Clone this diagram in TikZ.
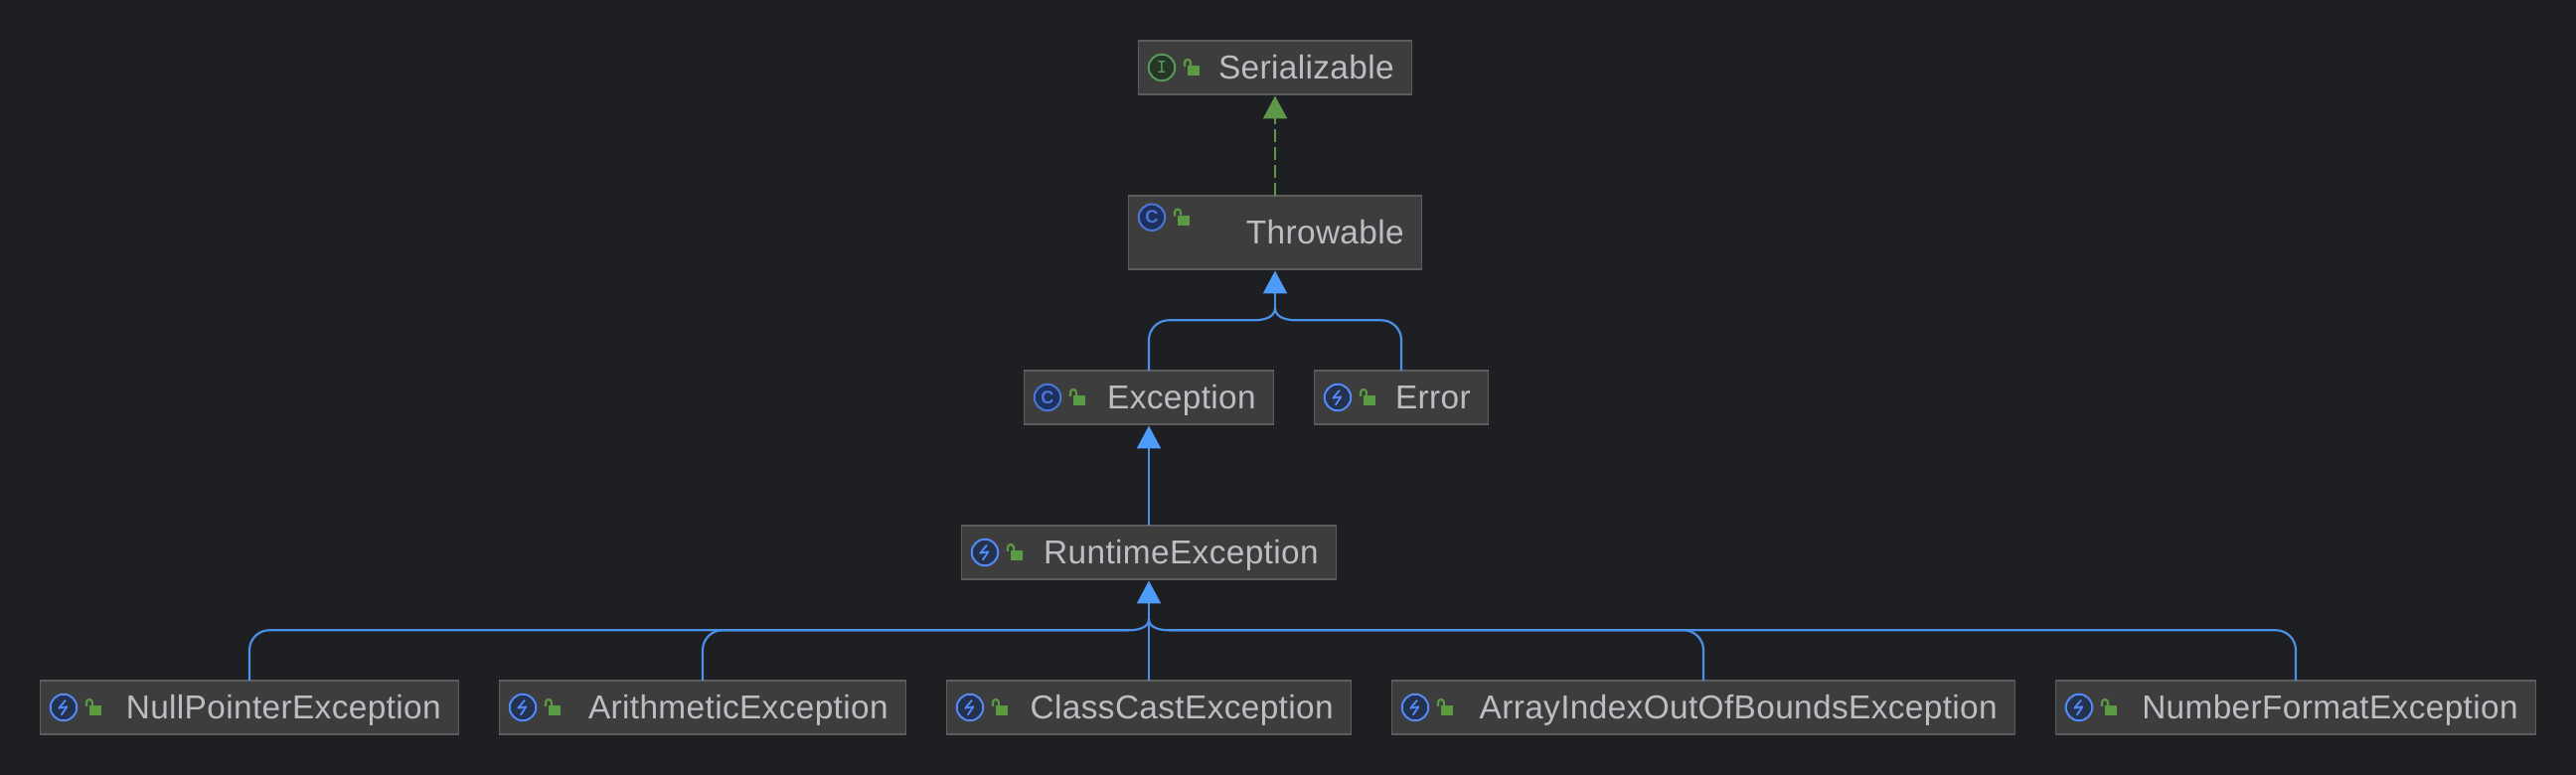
\documentclass[tikz,border=0pt]{standalone}
\usepackage{fontspec}
\setmainfont[LetterSpace=1.1]{Liberation Sans}
\usetikzlibrary{arrows.meta,calc}
\definecolor{pagebg}{HTML}{1E1F22}
\definecolor{boxfill}{HTML}{3D3D3D}
\definecolor{boxline}{HTML}{5C5D5C}
\definecolor{boxtext}{HTML}{BCBEC4}
\definecolor{extblue}{HTML}{4A8FE8}
\definecolor{tipblue}{HTML}{4E9CF9}
\definecolor{impgreen}{HTML}{5F9749}
\definecolor{lockgreen}{HTML}{5A9A42}
\definecolor{intring}{HTML}{57965C}
\definecolor{intfill}{HTML}{253627}
\definecolor{classring}{HTML}{4A77D4}
\definecolor{classfill}{HTML}{1F3060}
\definecolor{errring}{HTML}{548AF7}
\definecolor{errfill}{HTML}{25324D}

\begin{document}
\begin{tikzpicture}[
    classnode/.style={draw=boxline, fill=boxfill, line width=0.015cm, rectangle, outer sep=0pt, inner xsep=0.18cm, inner ysep=0pt,
        text width=#1cm-0.36cm, align=right, minimum height=0.54cm, text height=0.235cm, text depth=0cm,
        font=\fontsize{9.5}{11}\selectfont, text=boxtext},
    extendsline/.style={draw=extblue, line width=0.022cm},
    extendstip/.style={-{Triangle[width=0.24cm, length=0.23cm, color=tipblue]}, shorten >=0.015cm},
    implementsline/.style={draw=impgreen, line width=0.022cm, dash pattern=on 0.13cm off 0.05cm,
        -{Triangle[width=0.24cm, length=0.23cm, color=impgreen]}, shorten >=0.015cm},
    badge/.style={circle, minimum size=0.265cm, inner sep=0pt, outer sep=0pt, line width=0.02cm},
    lockpic/.pic={
        \fill[lockgreen] (0.497,-0.08) rectangle (0.62,0.02);
        \draw[lockgreen, line width=0.022cm] (0.467,0.01) -- (0.467,0.05) arc (180:0:0.03) -- (0.527,0.02);
    },
    intpic/.pic={
        \node[badge, draw=intring, fill=intfill, text=intring, font=\fontsize{5.6}{6}\ttfamily\bfseries] (-ring) at (0.237,0) {I};
        \pic at (0,0) {lockpic};
    },
    classpic/.pic={
        \node[badge, draw=classring, fill=classfill, text=classring, font=\fontsize{5.2}{6}\selectfont\bfseries] (-ring) at (0.237,0) {C};
        \pic at (0,0) {lockpic};
    },
    errpic/.pic={
        \node[badge, draw=errring, fill=errfill] (-ring) at (0.237,0) {};
        \draw[errring, line width=0.018cm, line join=round] (0.257,0.073) -- (0.19,-0.007) -- (0.27,0.007) -- (0.214,-0.077);
        \pic at (0,0) {lockpic};
    }]
    \fill[pagebg] (0,0) rectangle (25.92,7.80);
    % Boxes
    \node[classnode=2.754] (serializable) at (12.83, 7.12) {Serializable};
    \node[classnode=2.954, minimum height=0.74cm] (throwable) at (12.83, 5.46) {Throwable};
    \node[classnode=2.514] (exception) at (11.56, 3.80) {Exception};
    \node[classnode=1.754] (error) at (14.10, 3.80) {Error};
    \node[classnode=3.774] (runtime) at (11.56, 2.24) {RuntimeException};
    \node[classnode=4.214] (nullpointer) at (2.51, 0.68) {NullPointerException};
    \node[classnode=4.094] (arithmetic) at (7.07, 0.68) {ArithmeticException};
    \node[classnode=4.074] (classcast) at (11.56, 0.68) {ClassCastException};
    \node[classnode=6.274] (arrayindex) at (17.14, 0.68) {ArrayIndexOutOfBoundsException};
    \node[classnode=4.834] (numberformat) at (23.10, 0.68) {NumberFormatException};
    % Icons
    \pic (serializableicon) at (serializable.west) {intpic};
    \pic (throwableicon) at ($(throwable.north west)+(0,-0.217)$) {classpic};
    \pic (exceptionicon) at (exception.west) {classpic};
    \pic (erroricon) at (error.west) {errpic};
    \pic (runtimeicon) at (runtime.west) {errpic};
    \pic (nullpointericon) at (nullpointer.west) {errpic};
    \pic (arithmeticicon) at (arithmetic.west) {errpic};
    \pic (classcasticon) at (classcast.west) {errpic};
    \pic (arrayindexicon) at (arrayindex.west) {errpic};
    \pic (numberformaticon) at (numberformat.west) {errpic};
    % Junctions
    \coordinate (throwjoin) at (12.83, 4.70);
    \coordinate (throwleft) at (12.62, 4.577);
    \coordinate (throwright) at (13.04, 4.577);
    \coordinate (runjoin) at (11.56, 1.57);
    \coordinate (runleft) at (11.35, 1.457);
    \coordinate (runright) at (11.77, 1.457);
    % Arrows
    \draw[implementsline] (throwable.north) -- (serializable.south);
    \draw[extendsline, extendstip] (throwjoin) -- (throwable.south);
    \draw[extendsline, rounded corners=0.2cm] (exception.north) |- (throwleft);
    \draw[extendsline, rounded corners=0.2cm] (error.north) |- (throwright);
    \draw[extendsline] (throwleft) to[out=0, in=-90] (throwjoin);
    \draw[extendsline] (throwright) to[out=180, in=-90] (throwjoin);
    \draw[extendsline, extendstip] (runtime.north) -- (exception.south);
    \draw[extendsline, extendstip] (classcast.north) -- (runtime.south);
    \draw[extendsline, rounded corners=0.2cm] (nullpointer.north) |- (runleft);
    \draw[extendsline, rounded corners=0.2cm] (arithmetic.north) |- (runleft);
    \draw[extendsline, rounded corners=0.2cm] (arrayindex.north) |- (runright);
    \draw[extendsline, rounded corners=0.2cm] (numberformat.north) |- (runright);
    \draw[extendsline] (runleft) to[out=0, in=-90] (runjoin);
    \draw[extendsline] (runright) to[out=180, in=-90] (runjoin);
\end{tikzpicture}
\end{document}
